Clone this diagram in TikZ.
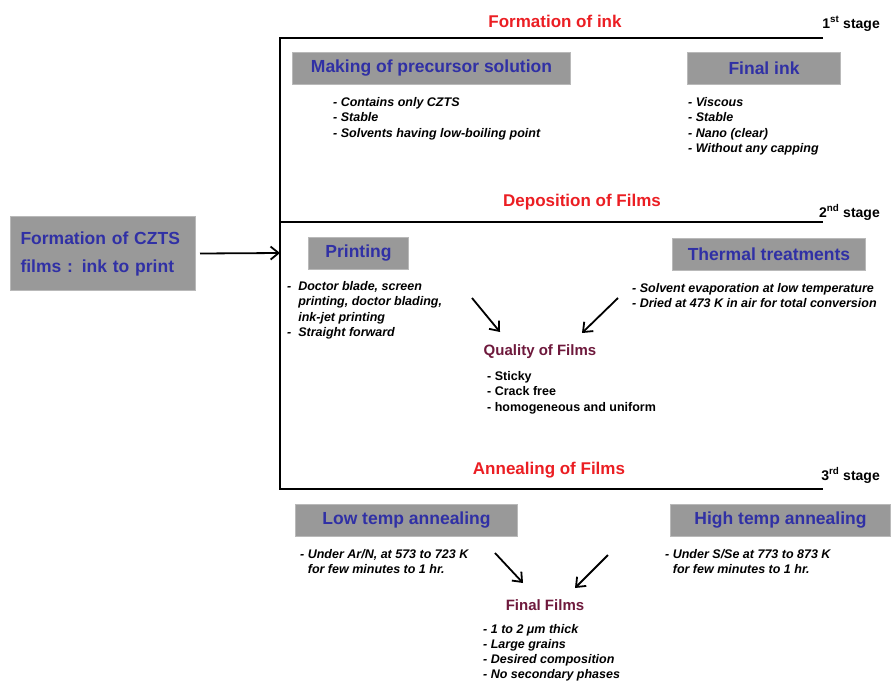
\documentclass[tikz,border=0pt]{standalone}
\usepackage{fontspec}
\setmainfont{Liberation Sans}
\usetikzlibrary{positioning,arrows.meta}
\definecolor{boxgray}{RGB}{153,153,153}
\definecolor{boxedge}{RGB}{185,185,185}
\definecolor{titleblue}{RGB}{48,48,165}
\definecolor{stagered}{RGB}{235,30,35}
\definecolor{filmmaroon}{RGB}{110,25,60}
\begin{document}
\begin{tikzpicture}[x=1pt,y=-1pt,
	graybox/.style={fill=boxgray,draw=boxedge,line width=1pt,text=titleblue,
		font=\bfseries\fontsize{17.5}{20}\selectfont,inner sep=0pt,
		minimum height=32pt,anchor=north west},
	stagetitle/.style={text=stagered,font=\bfseries\fontsize{17}{20}\selectfont},
	stagelabel/.style={anchor=base east,inner sep=0pt,font=\bfseries\fontsize{14}{16}\selectfont},
	filmtitle/.style={text=filmmaroon,font=\bfseries\fontsize{15}{18}\selectfont},
	bullets/.style={anchor=north west,inner sep=0pt,align=left,
		font=\bfseries\itshape\fontsize{12.5}{15.5}\selectfont},
	plainbullets/.style={bullets,font=\bfseries\fontsize{12.5}{15.5}\selectfont},
	arrowline/.style={line width=1.8pt,-{Straight Barb[length=8pt,width=13pt]}}]
	\useasboundingbox (0,0) rectangle (892,683);
	
	% frame of the stages
	\draw[line width=2.2pt] (823,38) -- (280,38) -- (280,489) -- (823,489);
	\draw[line width=2.2pt] (280,222) -- (823,222);
	
	% starting box
	\node[graybox,minimum width=185pt,minimum height=74pt,text width=165pt,align=left,
		font=\bfseries\fontsize{17.5}{28}\selectfont] (czts) at (10,216) {Formation of CZTS\\films : ink to print};
	\coordinate (entry) at (280,253);
	\draw[arrowline] ([xshift=4pt]czts.east) -- (entry);
	
	% first stage
	\node[stagetitle] (inktitle) at (555,21) {Formation of ink};
	\node[stagelabel] (stage1) at (880,28) {1\textsuperscript{st} stage};
	\node[graybox,minimum width=278pt] (precursor) at (292,52) {Making of precursor solution};
	\node[bullets] (precursorlist) at (333,97) {- Contains only CZTS\\- Stable\\- Solvents having low-boiling point};
	\node[graybox,minimum width=153pt] (finalink) at (687,52) {Final ink};
	\node[bullets] (finalinklist) at (688,97) {- Viscous\\- Stable\\- Nano (clear)\\- Without any capping};
	
	% second stage
	\node[stagetitle] (deptitle) at (582,202) {Deposition of Films};
	\node[stagelabel] (stage2) at (880,217) {2\textsuperscript{nd} stage};
	\node[graybox,minimum width=100pt] (printing) at (308,237) {Printing};
	\node[graybox,minimum width=193pt] (thermal) at (672,238) {Thermal treatments};
	\node[bullets] (printlist) at (287,281) {-\ \ Doctor blade, screen\\\phantom{-\ \ }printing, doctor blading,\\\phantom{-\ \ }ink-jet printing\\-\ \ Straight forward};
	\node[bullets] (thermallist) at (632,283) {- Solvent evaporation at low temperature\\- Dried at 473 K in air for total conversion};
	\node[filmtitle] (quality) at (540,352) {Quality of Films};
	\node[plainbullets] (qualitylist) at (487,371) {- Sticky\\- Crack free\\- homogeneous and uniform};
	
	%arrows
	\coordinate (printtail) at (472,298);
	\coordinate (printhead) at (500,332);
	\coordinate (thermaltail) at (618,298);
	\coordinate (thermalhead) at (582,333);
	\draw[arrowline] (printtail) -- (printhead);
	\draw[arrowline] (thermaltail) -- (thermalhead);
	
	% third stage
	\node[stagetitle] (annealtitle) at (549,470) {Annealing of Films};
	\node[stagelabel] (stage3) at (880,480) {3\textsuperscript{rd} stage};
	\node[graybox,minimum width=222pt] (lowtemp) at (295,504) {Low temp annealing};
	\node[graybox,minimum width=220pt] (hightemp) at (670,504) {High temp annealing};
	\node[bullets] (lowlist) at (300,549) {- Under Ar/N, at 573 to 723 K\\\phantom{- }for few minutes to 1 hr.};
	\node[bullets] (highlist) at (665,549) {- Under S/Se at 773 to 873 K\\\phantom{- }for few minutes to 1 hr.};
	\node[filmtitle] (finalfilms) at (545,605) {Final Films};
	\node[bullets,font=\bfseries\itshape\fontsize{12.5}{15}\selectfont] (finallist) at (483,624) {- 1 to 2 μm thick\\- Large grains\\- Desired composition\\- No secondary phases};
	
	%arrows
	\coordinate (lowtail) at (495,553);
	\coordinate (lowhead) at (523,583);
	\coordinate (hightail) at (608,555);
	\coordinate (highhead) at (575,588);
	\draw[arrowline] (lowtail) -- (lowhead);
	\draw[arrowline] (hightail) -- (highhead);
\end{tikzpicture}
\end{document}
